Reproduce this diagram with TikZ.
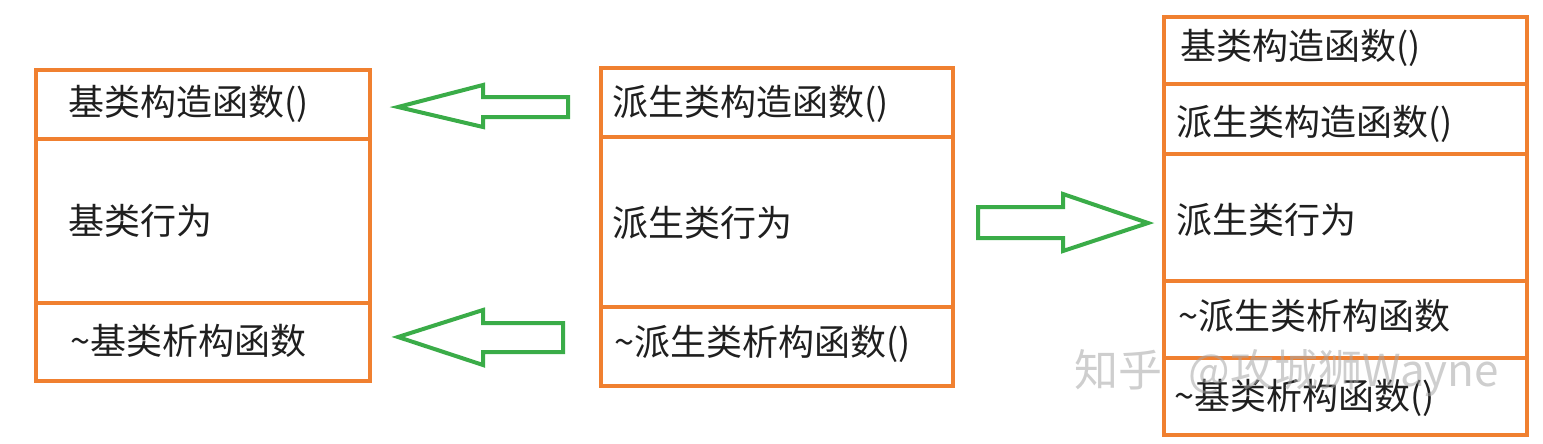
\documentclass[tikz,border=0pt]{standalone}
\usepackage{fontspec}
\setmainfont{Noto Sans CJK SC}
\definecolor{boxorange}{RGB}{240,128,48}
\definecolor{arrowgreen}{RGB}{58,172,72}
\begin{document}
\begin{tikzpicture}[x=0.75pt,y=-0.75pt,
  cellbox/.style={draw=boxorange,line width=3.6pt},
  label/.style={anchor=west,inner sep=0pt,font=\fontsize{27pt}{32pt}\selectfont,text=black!88},
  blockarrow/.style={draw=arrowgreen,line width=3pt,line join=miter,fill=white},
  watermark/.style={anchor=west,inner sep=0pt,font=\fontsize{33pt}{38pt}\selectfont,text=gray!70,opacity=0.55}]
\useasboundingbox (0,0) rectangle (1543,443);
% left box
\draw[cellbox] (36,70) rectangle (370,381);
\draw[cellbox] (36,139) -- (370,139);
\draw[cellbox] (36,303) -- (370,303);
\node[label] (l1) at (68,104) {基类构造函数()};
\node[label] (l2) at (68,221) {基类行为};
\node[label] (l3) at (70,341) {\textasciitilde 基类析构函数};
% middle box
\draw[cellbox] (601,68) rectangle (953,386);
\draw[cellbox] (601,137) -- (953,137);
\draw[cellbox] (601,307) -- (953,307);
\node[label] (m1) at (612,104) {派生类构造函数()};
\node[label] (m2) at (612,223) {派生类行为};
\node[label] (m3) at (614,344) {\textasciitilde 派生类析构函数()};
% right box
\draw[cellbox] (1164,17) rectangle (1527,435);
\draw[cellbox] (1164,84) -- (1527,84);
\draw[cellbox] (1164,154) -- (1527,154);
\draw[cellbox] (1164,281) -- (1527,281);
\draw[cellbox] (1164,358) -- (1527,358);
\node[label] (r1) at (1180,48) {基类构造函数()};
\node[label] (r2) at (1176,124) {派生类构造函数()};
\node[label] (r3) at (1176,220) {派生类行为};
\node[label] (r4) at (1178,316) {\textasciitilde 派生类析构函数};
\node[label] (r5) at (1174,398) {\textasciitilde 基类析构函数()};
% arrows
\draw[blockarrow] (568,97) -- (483,97) -- (483,85) -- (398,107) -- (483,127) -- (483,117) -- (568,117) -- cycle;
\draw[blockarrow] (563,323) -- (483,323) -- (483,310) -- (398,337) -- (483,365) -- (483,352) -- (563,352) -- cycle;
\draw[blockarrow] (978,207) -- (1063,207) -- (1063,194) -- (1148,223) -- (1063,251) -- (1063,238) -- (978,238) -- cycle;
% watermark
\node[watermark] (wm) at (1074,373) {知乎\hspace{0.6em}@攻城狮Wayne};
\end{tikzpicture}
\end{document}
